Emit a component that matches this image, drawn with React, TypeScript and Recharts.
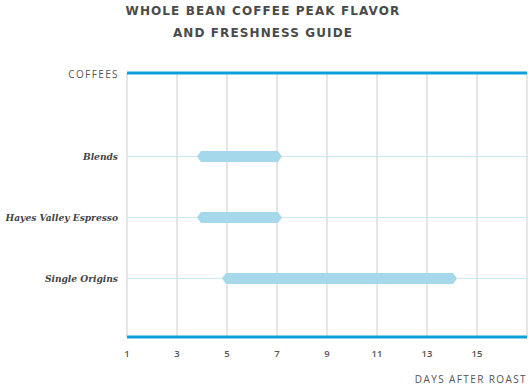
import { ComposedChart, Bar, XAxis, YAxis, CartesianGrid } from 'recharts';

const coffees = ['Blends', 'Hayes Valley Espresso', 'Single Origins'];
const peakStart = [4, 4, 5];
const peakEnd = [7, 7, 14];
const dayTicks = [1, 3, 5, 7, 9, 11, 13, 15];

const chartData = coffees.map((name, i) => ({ name, range: [peakStart[i], peakEnd[i]] }));

const BLUE = '#0e9fdc';

// pointed bar ends, like a stretched hexagon
function PeakShape(props: any) {
  const { x, y, width, height } = props;
  if (width == null) return null;
  const cy = y + height / 2;
  const x0 = x - 1;
  const x1 = x + width + 1;
  const tip = 4;
  const pts = [
    [x0 - tip, cy],
    [x0, y],
    [x1, y],
    [x1 + tip, cy],
    [x1, y + height],
    [x0, y + height],
  ]
    .map((p) => p.join(','))
    .join(' ');
  return <polygon points={pts} fill="#a5d8ea" />;
}

// plain text tick so long names stay on one line
function CoffeeTick(props: any) {
  const { x, y, payload } = props;
  return (
    <text
      x={x - 1}
      y={y}
      dy="0.35em"
      textAnchor="end"
      fill="#444"
      fontSize={9.1}
      fontFamily='"DejaVu Serif", serif'
      fontWeight="bold"
      fontStyle="italic"
    >
      {payload.value}
    </text>
  );
}

const labelStyle: React.CSSProperties = {
  position: 'absolute',
  fontFamily: '"Open Sans", "DejaVu Sans", sans-serif',
  fontSize: 10,
  letterSpacing: 1.4,
  color: '#555',
  whiteSpace: 'nowrap',
};

export default function App() {
  return (
    <div style={{ position: 'absolute', left: 0, top: 0, width: 528, height: 386, background: '#fff' }}>
      <div
        style={{
          position: 'absolute',
          left: 0,
          top: 0,
          width: 526,
          textAlign: 'center',
          fontFamily: '"DejaVu Sans", sans-serif',
          fontWeight: 'bold',
          fontSize: 12,
          letterSpacing: 1.1,
          lineHeight: '22px',
          color: '#4a4a4a',
        }}
      >
        WHOLE BEAN COFFEE PEAK FLAVOR
        <br />
        AND FRESHNESS GUIDE
      </div>
      <div style={{ ...labelStyle, right: 409, top: 67 }}>COFFEES</div>
      <div style={{ ...labelStyle, right: 1, top: 372 }}>DAYS AFTER ROAST</div>
      <ComposedChart
        width={528}
        height={386}
        data={chartData}
        layout="vertical"
        margin={{ top: 72, right: 1, bottom: 0, left: 0 }}
      >
        <CartesianGrid horizontal={false} stroke="#dedede" strokeWidth={1.5} />
        <CartesianGrid vertical={false} stroke="#cde8f3" strokeWidth={1} />
        <XAxis
          xAxisId="top"
          orientation="top"
          type="number"
          domain={[1, 17]}
          ticks={dayTicks}
          height={1}
          tick={false}
          tickLine={false}
          axisLine={{ stroke: BLUE, strokeWidth: 3 }}
        />
        <XAxis
          type="number"
          domain={[1, 17]}
          ticks={dayTicks}
          height={49}
          tickLine={false}
          tickMargin={7}
          axisLine={{ stroke: BLUE, strokeWidth: 3 }}
          tick={{ fill: '#555', fontSize: 9.5, fontFamily: '"Open Sans", "DejaVu Sans", sans-serif', fontWeight: 600 }}
        />
        <YAxis
          type="category"
          dataKey="name"
          width={127}
          padding={{ top: 53, bottom: 28 }}
          axisLine={false}
          tickLine={false}
          tick={<CoffeeTick />}
        />
        <Bar dataKey="range" barSize={11} shape={<PeakShape />} isAnimationActive={false} />
      </ComposedChart>
    </div>
  );
}
